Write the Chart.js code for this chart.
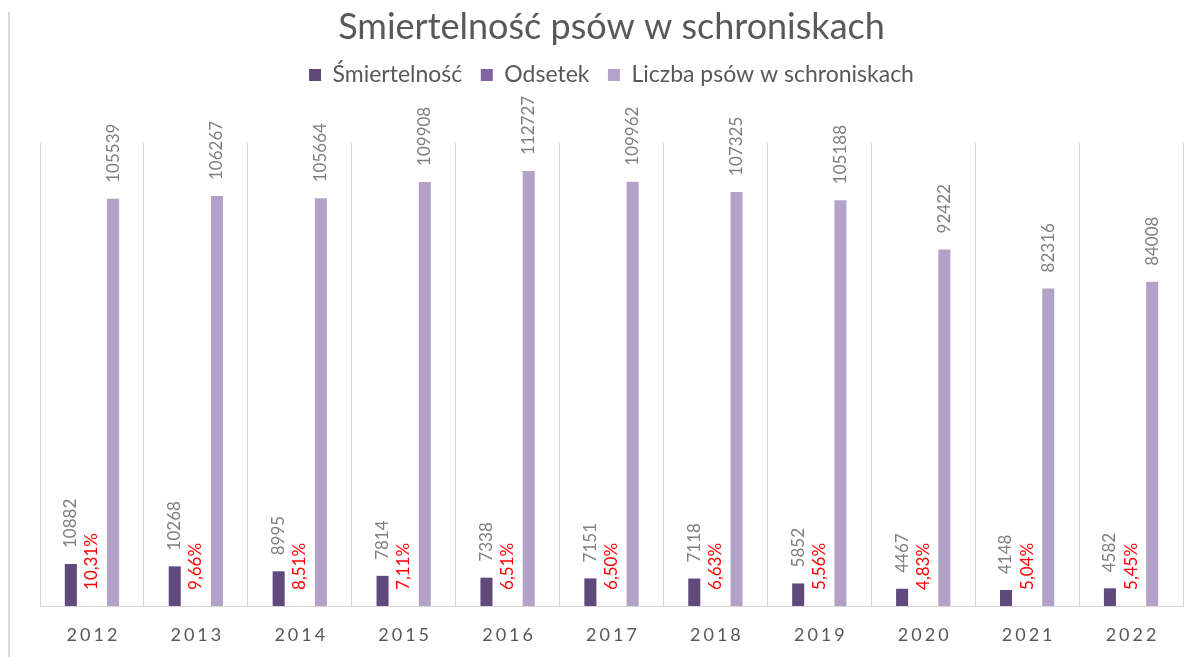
<!DOCTYPE html>
<html>
<head>
<meta charset="utf-8">
<script src="https://cdn.jsdelivr.net/npm/chart.js@4.4.1/dist/chart.umd.min.js"></script>
<style>
  html, body { margin: 0; padding: 0; background: #ffffff; }
  #wrap { position: relative; width: 1202px; height: 657px; }
  #edge { position: absolute; left: 8px; top: 12px; width: 0; height: 645px; border-left: 2px solid #d9d9d9; }
</style>
</head>
<body>
<div id="wrap">
  <div id="edge"></div>
  <canvas id="c" width="1202" height="657"></canvas>
</div>
<script>
const years = ['2012','2013','2014','2015','2016','2017','2018','2019','2020','2021','2022'];
const smiertelnosc = [10882, 10268, 8995, 7814, 7338, 7151, 7118, 5852, 4467, 4148, 4582];
const odsetek = [10.31, 9.66, 8.51, 7.11, 6.51, 6.50, 6.63, 5.56, 4.83, 5.04, 5.45];
const liczba = [105539, 106267, 105664, 109908, 112727, 109962, 107325, 105188, 92422, 82316, 84008];
const seriesNames = ['Śmiertelność', 'Odsetek', 'Liczba psów w schroniskach'];
const titleText = 'Smiertelność psów w schroniskach';

const FONT = 'Lato, "Open Sans", sans-serif';

const labelPlugin = {
  id: 'barLabels',
  afterDatasetsDraw(chart) {
    const ctx = chart.ctx;
    chart.data.datasets.forEach((ds, di) => {
      const meta = chart.getDatasetMeta(di);
      if (meta.hidden) return;
      meta.data.forEach((el, i) => {
        const v = ds.data[i];
        const txt = di === 1 ? v.toFixed(2).replace('.', ',') + '%' : String(v);
        ctx.save();
        ctx.translate(el.x, el.y - 16);
        ctx.rotate(-Math.PI / 2);
        ctx.font = '17px ' + FONT;
        ctx.fillStyle = di === 1 ? '#ff0000' : '#7f7f7f';
        ctx.textAlign = 'left';
        ctx.textBaseline = 'middle';
        ctx.fillText(txt, 0, 0);
        ctx.restore();
      });
    });
  }
};

new Chart(document.getElementById('c'), {
  type: 'bar',
  data: {
    labels: years,
    datasets: [
      { label: seriesNames[0], data: smiertelnosc, backgroundColor: '#604a7b' },
      { label: seriesNames[1], data: odsetek, backgroundColor: '#8064a2' },
      { label: seriesNames[2], data: liczba, backgroundColor: '#b3a2c7' }
    ]
  },
  options: {
    responsive: false,
    animation: false,
    devicePixelRatio: 1,
    categoryPercentage: 0.61,
    barPercentage: 0.57,
    layout: { padding: { left: 40, right: 19, top: 0, bottom: 0 } },
    plugins: {
      title: {
        display: true,
        text: titleText,
        color: '#595959',
        font: { family: FONT, size: 36, weight: 'normal', lineHeight: 1.0 },
        padding: { top: 9, bottom: 0 }
      },
      legend: {
        display: true,
        position: 'top',
        labels: {
          color: '#595959',
          font: { family: FONT, size: 23 },
          boxWidth: 12,
          boxHeight: 12,
          padding: 18.5
        }
      },
      tooltip: { enabled: false }
    },
    scales: {
      x: {
        position: 'bottom',
        grid: { display: true, color: '#d9d9d9', lineWidth: 1, drawTicks: false, offset: true },
        border: { display: true, color: '#d9d9d9', width: 1 },
        ticks: { color: '#595959', font: { family: FONT, size: 18 }, padding: 18, maxRotation: 0 },
        afterFit(s) { s.height = 51; },
        afterUpdate(s) {
          if (!s._lsPatched) {
            const orig = s.drawLabels;
            s.drawLabels = function (area) {
              const c = this.ctx;
              c.save();
              c.letterSpacing = '3px';
              c.translate(1.5, 0);
              orig.call(this, area);
              c.restore();
            };
            s._lsPatched = true;
          }
        }
      },
      spacer: {
        type: 'linear',
        axis: 'x',
        position: 'top',
        display: true,
        grid: { display: false },
        border: { display: false },
        ticks: { display: false },
        afterFit(s) { s.height = 46.5; }
      },
      y: {
        display: false,
        min: 0,
        max: 120000
      }
    }
  },
  plugins: [labelPlugin]
});
</script>
</body>
</html>
